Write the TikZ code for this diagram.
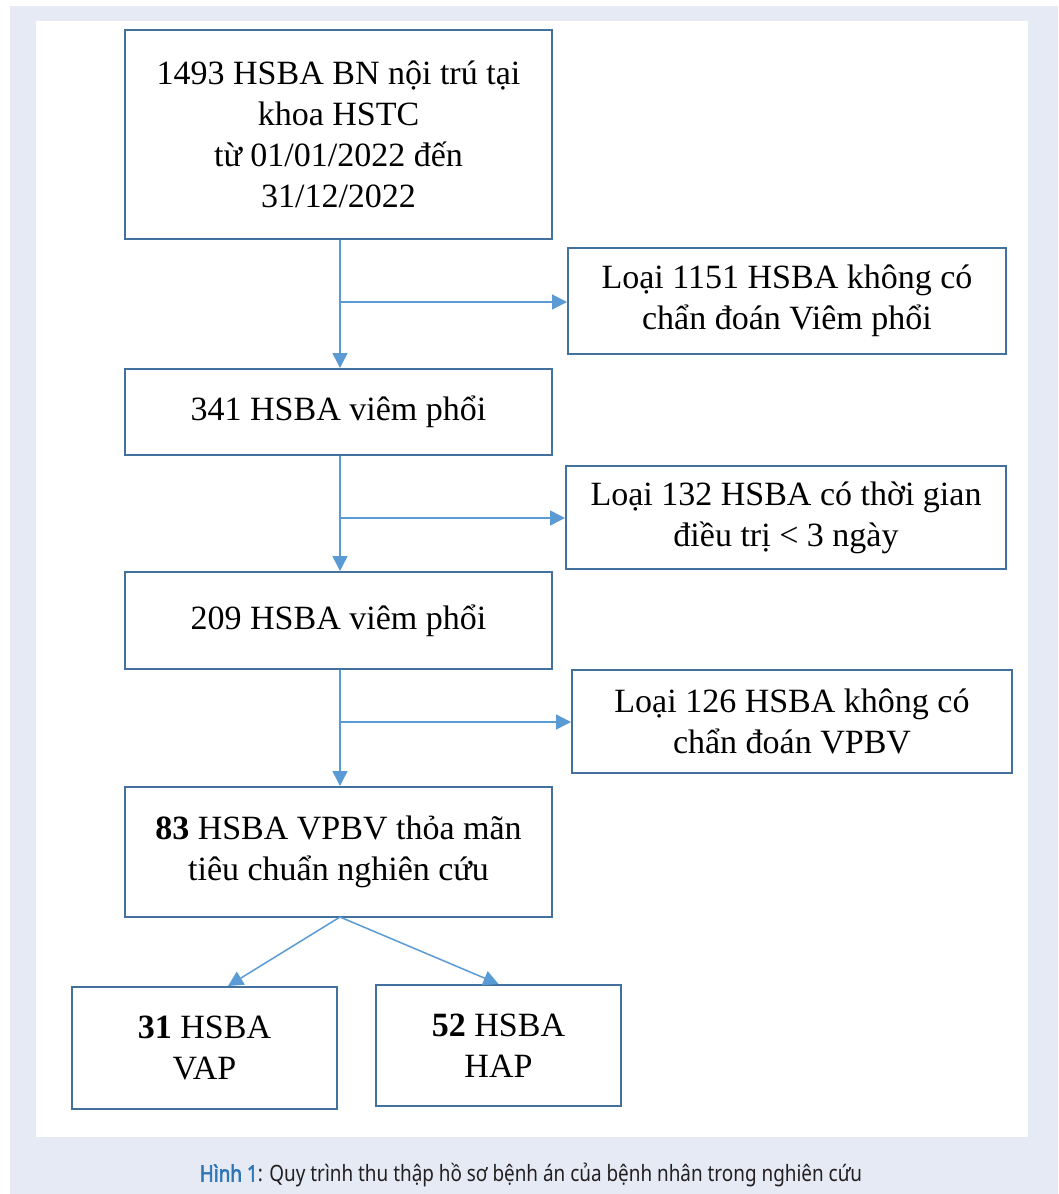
\documentclass[tikz,border=0pt]{standalone}
\usepackage{fontspec}
\setmainfont{Liberation Serif}
\newfontfamily\capfont[FakeStretch=0.84]{Noto Sans}
\newfontfamily\capbold[FakeStretch=0.84,FakeBold=2.5]{Noto Sans}
\usepackage{tikz}
\usetikzlibrary{arrows.meta,calc}
\definecolor{boxblue}{HTML}{41719C}
\definecolor{arrblue}{HTML}{5B9BD5}
\definecolor{pageblue}{HTML}{E6EAF5}
\definecolor{capblue}{HTML}{2E75B6}
\definecolor{captext}{HTML}{231F20}

\begin{document}
\begin{tikzpicture}[x=1pt,y=-1pt,
  hbox/.style={draw=boxblue,line width=2pt,fill=white,align=center,inner sep=0pt,
    font=\fontsize{34}{41}\selectfont},
  flow/.style={color=arrblue,line width=1.5pt,-{Triangle[length=15pt,width=15pt]}}]
\useasboundingbox (0,0) rectangle (1058,1194);
\fill[pageblue] (10,6) rectangle (1058,1194);
\fill[white] (36,21) rectangle (1028,1137);
\node[hbox,minimum width=427pt,minimum height=209pt] (all) at (338.5,134.5) {1493 HSBA BN nội trú tại\\khoa HSTC\\từ 01/01/2022 đến\\31/12/2022};
\node[hbox,minimum width=438pt,minimum height=106pt] (ex1) at (787,301) {Loại 1151 HSBA không có\\chẩn đoán Viêm phổi};
\node[hbox,minimum width=427pt,minimum height=86pt] (vp1) at (338.5,412) {341 HSBA viêm phổi};
\node[hbox,minimum width=440pt,minimum height=103pt] (ex2) at (786,517.5) {Loại 132 HSBA có thời gian\\điều trị < 3 ngày};
\node[hbox,minimum width=427pt,minimum height=97pt] (vp2) at (338.5,620.5) {209 HSBA viêm phổi};
\node[hbox,minimum width=440pt,minimum height=103pt] (ex3) at (792,721.5) {Loại 126 HSBA không có\\chẩn đoán VPBV};
\node[hbox,minimum width=427pt,minimum height=130pt] (vpbv) at (338.5,852) {\textbf{83} HSBA VPBV thỏa mãn\\tiêu chuẩn nghiên cứu};
\node[hbox,minimum width=265pt,minimum height=122pt] (vap) at (204.5,1048) {\textbf{31} HSBA\\VAP};
\node[hbox,minimum width=245pt,minimum height=121pt] (hap) at (498.5,1045.5) {\textbf{52} HSBA\\HAP};
% split points on the main line
\coordinate (s1) at (340,302);
\coordinate (s2) at (340,518);
\coordinate (s3) at (340,722);
\coordinate (top) at (340,917);
\path
(all.south -| s1) edge[flow] (vp1.north -| s1)
(s1) edge[flow] (s1 -| ex1.west)
(vp1.south -| s2) edge[flow] (vp2.north -| s2)
(s2) edge[flow] (s2 -| ex2.west)
(vp2.south -| s3) edge[flow] (vpbv.north -| s3)
(s3) edge[flow] (s3 -| ex3.west)
(top) edge[flow] (vap.north -| 228,0)
(top) edge[flow] (hap.north);
\node[font=\capfont\fontsize{22.5}{26}\selectfont,text=captext] (cap) at (531,1175) {\textcolor{capblue}{\capbold Hình 1}: Quy trình thu thập hồ sơ bệnh án của bệnh nhân trong nghiên cứu};
\end{tikzpicture}
\end{document}
